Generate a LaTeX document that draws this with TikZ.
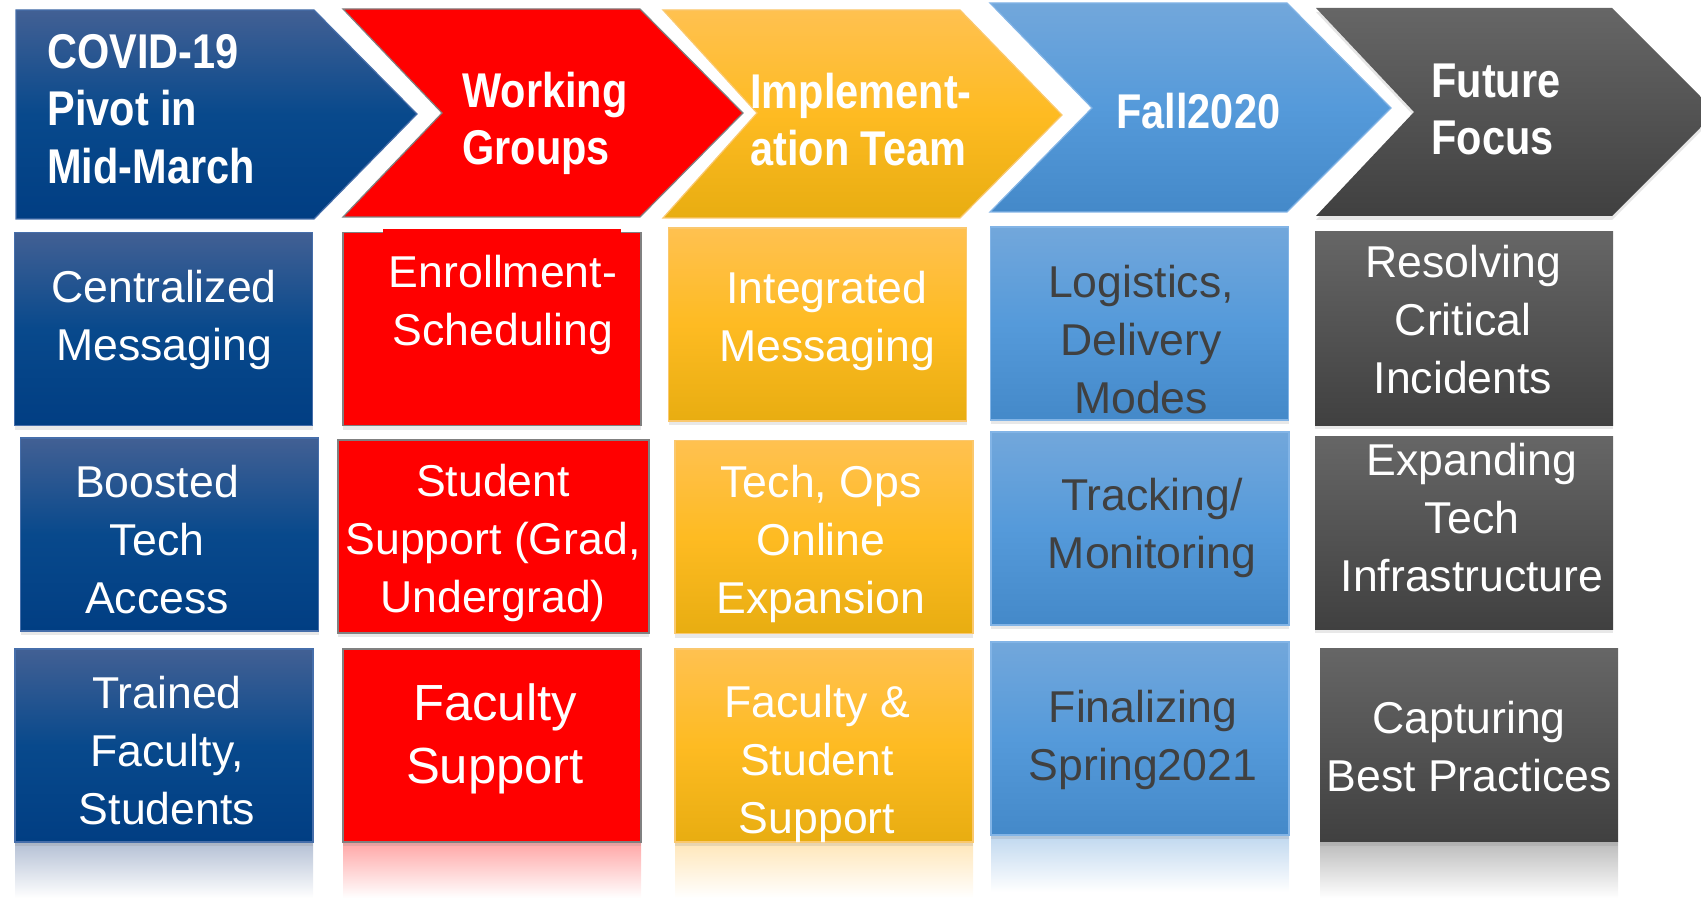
\documentclass[tikz,border=0pt]{standalone}
\usepackage{fontspec}
\setmainfont{Liberation Sans}
\newfontfamily\headfont{Liberation Sans}[FakeStretch=0.85]
\usetikzlibrary{shadows}
\definecolor{navyTop}{RGB}{66,96,148}
\definecolor{navyMid}{RGB}{8,73,140}
\definecolor{navyBot}{RGB}{1,62,131}
\definecolor{navyLine}{RGB}{70,110,170}
\definecolor{pureRed}{RGB}{255,0,0}
\definecolor{goldTop}{RGB}{255,193,80}
\definecolor{goldMid}{RGB}{254,187,34}
\definecolor{goldBot}{RGB}{232,173,17}
\definecolor{goldLine}{RGB}{250,200,110}
\definecolor{skyTop}{RGB}{114,167,219}
\definecolor{skyMid}{RGB}{85,154,218}
\definecolor{skyBot}{RGB}{68,137,201}
\definecolor{skyLine}{RGB}{130,180,230}
\definecolor{slateTop}{RGB}{102,102,102}
\definecolor{slateBot}{RGB}{64,64,64}
\definecolor{darkText}{RGB}{64,64,64}
\tikzset{
    chevb/.style = {draw=navyLine, line width=0.6pt, top color=navyTop, bottom color=navyBot, middle color=navyMid},
    chevr/.style = {draw=gray, line width=0.6pt, fill=pureRed},
    chevo/.style = {draw=goldLine, line width=0.6pt, top color=goldTop, bottom color=goldBot, middle color=goldMid},
    chevs/.style = {draw=skyLine, line width=0.6pt, top color=skyTop, bottom color=skyBot, middle color=skyMid},
    chevg/.style = {top color=slateTop, bottom color=slateBot, drop shadow={opacity=0.2, shadow xshift=0pt, shadow yshift=-2pt}},
    boxn/.style = {rectangle, minimum width=149pt, minimum height=96.5pt, inner sep=0pt, line width=0.6pt, drop shadow={opacity=0.18, shadow xshift=0pt, shadow yshift=-2pt}},
    boxb/.style = {boxn, draw=navyLine, top color=navyTop, bottom color=navyBot, middle color=navyMid},
    boxr/.style = {boxn, draw=gray, fill=pureRed},
    boxo/.style = {boxn, draw=goldLine, top color=goldTop, bottom color=goldBot, middle color=goldMid},
    boxs/.style = {boxn, draw=skyLine, top color=skyTop, bottom color=skyBot, middle color=skyMid},
    boxg/.style = {boxn, top color=slateTop, bottom color=slateBot},
    refl/.style = {top color=#1, bottom color=white},
    headtxt/.style = {anchor=north west, inner sep=0pt, align=left, text=white, font=\headfont\bfseries\fontsize{24.4}{28.75}\selectfont},
    celltxt/.style = {anchor=north, inner sep=0pt, align=center, text=white, font=\fontsize{22.3}{29}\selectfont},
    celltxtd/.style = {celltxt, text=darkText},
    bigtxt/.style = {celltxt, font=\fontsize{25.4}{31.5}\selectfont}
}
\begin{document}
\begin{tikzpicture}[x=0.5pt,y=-0.5pt]
\useasboundingbox (0,0) rectangle (1701,898);
\clip (0,0) rectangle (1701,898);
% reflections under the last row
\fill[refl=navyTop!40!white] (15,842) rectangle (313,898);
\fill[refl=pureRed!35!white] (343,842) rectangle (641,898);
\fill[refl=goldTop!40!white] (675,842) rectangle (973,898);
\fill[refl=skyTop!45!white] (991,835) rectangle (1289,892);
\fill[refl=slateTop!45!white] (1320,841) rectangle (1618,898);
%
% chevrons
\path[chevb] (16,10) -- (314,10) -- (417,114) -- (314,219) -- (16,219) -- cycle;
\path[chevr] (343,9) -- (640,9) -- (743,113) -- (640,217) -- (343,217) -- (442,113) -- cycle;
\path[chevo] (663,10) -- (960,10) -- (1062,115) -- (960,218) -- (663,218) -- (757,113) -- cycle;
\path[chevs] (990,3) -- (1287,3) -- (1391,108) -- (1287,212) -- (990,212) -- (1092,108) -- cycle;
\path[chevg] (1316,8) -- (1612,8) -- (1716,112) -- (1612,216) -- (1316,216) -- (1414,112) -- cycle;
%
\node[headtxt] at (47,27.75) (h1) {\strut COVID-19\\Pivot in\\Mid-March};
\node[headtxt] at (462,66.75) (h2) {\strut Working\\Groups};
\node[headtxt] at (750,67.75) (h3) {\strut Implement-\\ation Team};
\node[headtxt] at (1116,87.75) (h4) {\strut Fall2020};
\node[headtxt] at (1431,56.75) (h5) {\strut Future\\Focus};
%
% boxes
\node[boxb] at (163.5,329) (n21) {};
\node[boxb] at (169.5,534.5) (n31) {};
\node[boxb] at (164,745.5) (n41) {};
\node[boxr] at (492,329) (n22) {};
\fill[pureRed] (383,229) rectangle (621,234);
\node[boxr, minimum width=155.5pt] at (493.5,536.5) (n32) {};
\node[boxr] at (492,745.5) (n42) {};
\node[boxo] at (817.5,324.5) (n23) {};
\node[boxo] at (824,537) (n33) {};
\node[boxo] at (824,745.5) (n43) {};
\node[boxs] at (1139.5,323.5) (n24) {};
\node[boxs] at (1140,528.5) (n34) {};
\node[boxs] at (1140,738.5) (n44) {};
\node[boxg] at (1464,328.5) (n25) {};
\node[boxg] at (1464,532.5) (n35) {};
\node[boxg] at (1469,745) (n45) {};
%
% texts
\node[celltxt] at (164,261.4) (t21) {\strut Centralized\\Messaging};
\node[celltxt] at (503,246.4) (t22) {\strut Enrollment-\\Scheduling};
\node[celltxt] at (827,262.4) (t23) {\strut Integrated\\Messaging};
\node[celltxtd] at (1141,256.4) (t24) {\strut Logistics,\\Delivery\\Modes};
\node[celltxt] at (1463,236.4) (t25) {\strut Resolving\\Critical\\Incidents};
\node[celltxt] at (157,456.4) (t31) {\strut Boosted\\Tech\\Access};
\node[celltxt] at (493,455.4) (t32) {\strut Student\\Support (Grad,\\Undergrad)};
\node[celltxt] at (821,456.4) (t33) {\strut Tech, Ops\\Online\\Expansion};
\node[celltxtd] at (1152,469.4) (t34) {\strut Tracking/\\Monitoring};
\node[celltxt] at (1472,434.4) (t35) {\strut Expanding\\Tech\\Infrastructure};
\node[celltxt] at (167,667.4) (t41) {\strut Trained\\Faculty,\\Students};
\node[bigtxt] at (495,675.9) (t42) {\strut Faculty\\Support};
\node[celltxt] at (817,676.4) (t43) {\strut Faculty \&\\Student\\Support};
\node[celltxtd] at (1143,681.4) (t44) {\strut Finalizing\\Spring2021};
\node[celltxt] at (1469,692.4) (t45) {\strut Capturing\\Best Practices};
\end{tikzpicture}
\end{document}
